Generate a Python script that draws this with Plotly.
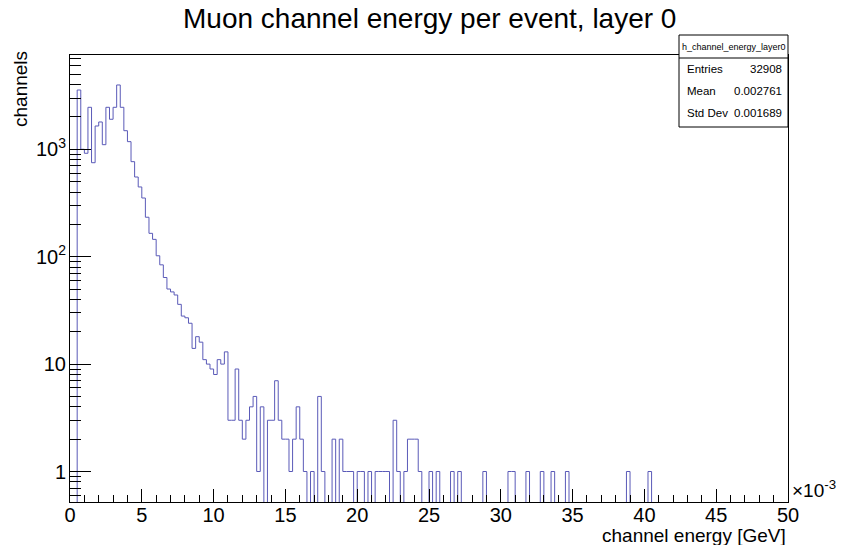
import numpy as np
import plotly.graph_objects as go

# ---------------- data ----------------
n_bins = 200
x_min, x_max = 0.0, 50.0          # channel energy in units of 1e-3 GeV
counts = [
    0, 0, 3565, 1000, 918, 2460, 750, 1648, 1796, 1104,
    2460, 1903, 2460, 3970, 2460, 1490, 1178, 767, 552, 446,
    352, 233, 165, 145, 102, 84, 64, 50, 47, 44,
    36, 28, 27, 24, 14, 18, 16, 11, 10, 9,
    8, 11, 10, 13, 3, 3, 9, 3, 2, 3,
    4, 5, 1, 4, 0, 3, 3, 7, 3, 2,
    2, 1, 2, 4, 2, 1, 0, 1, 0, 5,
    1, 0, 0, 2, 0, 2, 1, 1, 1, 0,
    1, 1, 0, 1, 0, 1, 1, 1, 1, 0,
    3, 1, 0, 1, 2, 2, 2, 1, 0, 0,
    1, 0, 1, 0, 0, 0, 1, 0, 1, 0,
    0, 0, 0, 0, 0, 1, 0, 0, 0, 0,
    0, 0, 1, 1, 0, 0, 0, 1, 0, 0,
    0, 1, 0, 0, 1, 0, 0, 0, 1, 0,
    0, 0, 0, 0, 0, 0, 0, 0, 0, 0,
    0, 0, 0, 0, 0, 1, 0, 0, 0, 0,
    0, 1, 0, 0, 0, 0, 0, 0, 0, 0,
    0, 0, 0, 0, 0, 0, 0, 0, 0, 0,
    0, 0, 0, 0, 0, 0, 0, 0, 0, 0,
    0, 0, 0, 0, 0, 0, 0, 0, 0, 0,
]
x_tick_vals = [0, 5, 10, 15, 20, 25, 30, 35, 40, 45, 50]
y_tick_vals = [1, 10, 100, 1000]
y_tick_text = ["1", "10", "10<sup>2</sup>", "10<sup>3</sup>"]
y_range = [0.52, 7550]

hist_name = "h_channel_energy_layer0"
stat_labels = ["Entries", "Mean", "Std Dev"]
stat_values = ["32908", "0.002761", "0.001689"]

title = "Muon channel energy per event, layer 0"
x_title = "channel energy [GeV]"
y_title = "channels"

# ---------------- figure ----------------
FONT = "Liberation Sans, Arial, sans-serif"
edges = np.linspace(x_min, x_max, n_bins + 1)
floor = y_range[0] / 100.0   # empty bins fall below the log axis and are clipped
y_step = [c if c > 0 else floor for c in counts]
y_step = y_step + [y_step[-1]]

fig = go.Figure()
fig.add_trace(go.Scatter(
    x=edges, y=y_step, mode="lines",
    line=dict(shape="hv", color="#5a5ab8", width=1),
    hoverinfo="skip", showlegend=False,
))

minor_y = [m * 10.0 ** d for d in range(-1, 4) for m in range(2, 10)
           if y_range[0] <= m * 10.0 ** d <= y_range[1]]

fig.update_xaxes(
    range=[x_min, x_max], tickmode="array", tickvals=x_tick_vals,
    ticks="inside", ticklen=13, tickwidth=1, tickcolor="#000",
    minor=dict(dtick=1, ticks="inside", ticklen=7, tickcolor="#000", showgrid=False),
    showgrid=False, zeroline=False, showline=True, linecolor="#000", linewidth=1,
    mirror=True, tickfont=dict(family=FONT, size=20, color="#000"),
    ticklabelstandoff=-5,
)
fig.update_yaxes(
    type="log", range=[np.log10(y_range[0]), np.log10(y_range[1])],
    tickmode="array", tickvals=y_tick_vals, ticktext=y_tick_text,
    ticks="inside", ticklen=21, tickwidth=1, tickcolor="#000",
    minor=dict(tickmode="array", tickvals=minor_y, ticks="inside", ticklen=11,
               tickcolor="#000", showgrid=False),
    showgrid=False, zeroline=False, showline=True, linecolor="#000", linewidth=1,
    mirror=True, tickfont=dict(family=FONT, size=20, color="#000"),
    ticklabelstandoff=-1,
)

L, R, T, B = 70, 65, 55, 43
W, H = 853, 545
pw, ph = W - L - R, H - T - B

def px(xp):
    return (xp - L) / pw

def py(yp):
    return (H - B - yp) / ph

annotations = [
    dict(text=title, x=0.5, xref="paper", y=py(18), yref="paper", xanchor="center",
         yanchor="middle", showarrow=False, font=dict(family=FONT, size=28, color="#000")),
    dict(text=x_title, x=1.0, xref="paper", y=py(535), yref="paper", xanchor="right",
         yanchor="middle", showarrow=False, font=dict(family=FONT, size=19, color="#000")),
    dict(text=y_title, x=px(20), xref="paper", y=py(89), yref="paper", xanchor="center",
         yanchor="middle", textangle=-90, showarrow=False,
         font=dict(family=FONT, size=19, color="#000")),
    dict(text="\u00d710<sup>-3</sup>", x=px(790), xref="paper", y=py(489), yref="paper",
         xanchor="left", yanchor="middle", showarrow=False,
         font=dict(family=FONT, size=19, color="#000")),
]

# stats box
bx0, bx1, by0, by1, bsep = 679, 788, 127, 35, 58
shapes = [
    dict(type="rect", xref="paper", yref="paper", x0=px(bx0), x1=px(bx1), y0=py(by0), y1=py(by1),
         line=dict(color="#000", width=1), fillcolor="#fff", layer="above"),
    dict(type="line", xref="paper", yref="paper", x0=px(bx0), x1=px(bx1), y0=py(bsep), y1=py(bsep),
         line=dict(color="#000", width=1), layer="above"),
]
annotations.append(dict(text=hist_name, x=px((bx0 + bx1) / 2), xref="paper", y=py(47), yref="paper",
                        xanchor="center", yanchor="middle", showarrow=False,
                        font=dict(family=FONT, size=9, color="#000")))
for i, (lab, val) in enumerate(zip(stat_labels, stat_values)):
    yy = py(69 + 22 * i)
    annotations.append(dict(text=lab, x=px(685), xref="paper", y=yy, yref="paper",
                            xanchor="left", yanchor="middle", showarrow=False,
                            font=dict(family=FONT, size=11.5, color="#000")))
    annotations.append(dict(text=val, x=px(784), xref="paper", y=yy, yref="paper",
                            xanchor="right", yanchor="middle", showarrow=False,
                            font=dict(family=FONT, size=11.5, color="#000")))

fig.update_layout(
    width=W, height=H, margin=dict(l=L, r=R, t=T, b=B, pad=0),
    paper_bgcolor="#fff", plot_bgcolor="#fff",
    annotations=annotations, shapes=shapes, showlegend=False,
    font=dict(family=FONT, color="#000"),
)

fig.write_html("out.html")
